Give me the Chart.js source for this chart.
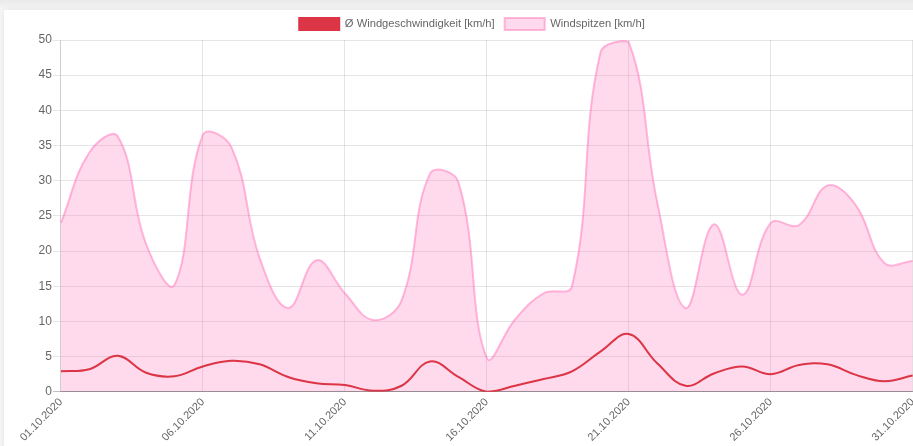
<!DOCTYPE html>
<html>
<head>
<meta charset="utf-8">
<script src="https://cdn.jsdelivr.net/npm/chart.js@4/dist/chart.umd.min.js"></script>
<style>
    html, body { margin: 0; padding: 0; overflow: hidden; }
    body { width: 913px; height: 446px; background: linear-gradient(#e9e9e9, #f6f6f6 10px); }
    .card {
        position: absolute; left: 4px; top: 10px; width: 930px; height: 440px; overflow: hidden;
        background: #fff; box-shadow: 0 0 6px rgba(0,0,0,0.08);
    }
    .card canvas { display: block; margin-top: -2px; margin-left: 14px; }
</style>
</head>
<body>
<div class="card"><canvas id="wind" width="908" height="440"></canvas></div>
<script>
var days = ['01.10.2020', '02.10.2020', '03.10.2020', '04.10.2020', '05.10.2020', '06.10.2020', '07.10.2020', '08.10.2020',
    '09.10.2020', '10.10.2020', '11.10.2020', '12.10.2020', '13.10.2020', '14.10.2020', '15.10.2020', '16.10.2020',
    '17.10.2020', '18.10.2020', '19.10.2020', '20.10.2020', '21.10.2020', '22.10.2020', '23.10.2020', '24.10.2020',
    '25.10.2020', '26.10.2020', '27.10.2020', '28.10.2020', '29.10.2020', '30.10.2020', '31.10.2020'];
var avgSpeed = [2.9, 3.2, 5.1, 2.7, 2.2, 3.6, 4.4, 3.9, 2.1, 1.2, 0.95, 0.15, 0.85, 4.3, 2.1, 0.0,
    0.85, 1.8, 2.9, 5.7, 8.2, 4.05, 0.85, 2.6, 3.6, 2.5, 3.8, 3.9, 2.4, 1.5, 2.3];
var gusts = [24.0, 34.0, 36.3, 21.0, 15.2, 36.5, 34.8, 19.0, 11.9, 18.7, 14.0, 10.2, 13.0, 31.0, 29.8, 4.8,
    10.3, 14.0, 15.0, 48.2, 49.7, 27.0, 11.9, 23.8, 13.8, 24.0, 23.7, 29.3, 26.5, 18.3, 18.6];
var yTicks = [0, 5, 10, 15, 20, 25, 30, 35, 40, 45, 50];

Chart.defaults.font.family = "'Helvetica Neue', Helvetica, Arial, sans-serif";
Chart.defaults.font.size = 12;
Chart.defaults.color = '#666';

var ctx = document.getElementById('wind').getContext('2d');
var chart = new Chart(ctx, {
    type: 'line',
    data: {
        labels: days,
        datasets: [{
                label: 'Ø Windgeschwindigkeit [km/h]',
                data: avgSpeed,
                borderColor: 'rgb(220,53,69)',
                backgroundColor: 'rgb(220,53,69)',
                borderWidth: 2,
                fill: false,
                pointRadius: 0,
                tension: 0.4
            },
            {
                label: 'Windspitzen [km/h]',
                data: gusts,
                borderColor: 'rgba(255,105,180,0.45)',
                backgroundColor: 'rgba(255,105,180,0.25)',
                borderWidth: 2,
                fill: 'origin',
                pointRadius: 0,
                tension: 0.4
            }
        ]
    },
    options: {
        responsive: false,
        animation: false,
        plugins: {
            legend: {
                labels: { boxWidth: 40, boxHeight: 12, padding: 10, font: { size: 11.2 } }
            },
            tooltip: { enabled: false }
        },
        scales: {
            x: {
                grid: {
                    color: function(c) { return c.index % 5 === 0 ? 'rgba(0,0,0,0.1)' : 'transparent'; },
                    tickLength: 0
                },
                border: { color: 'rgba(0,0,0,0.25)' },
                ticks: {
                    autoSkip: false,
                    minRotation: 45,
                    maxRotation: 45,
                    padding: 4,
                    font: { size: 11 },
                    callback: function(v, i) { return i % 5 === 0 ? days[i] : ''; }
                }
            },
            y: {
                min: 0,
                max: 50,
                afterBuildTicks: function(axis) { axis.ticks = yTicks.map(function(v) { return { value: v }; }); },
                grid: {
                    color: function(c) { return c.tick && c.tick.value === 0 ? 'rgba(0,0,0,0.25)' : 'rgba(0,0,0,0.1)'; },
                    tickLength: 8
                },
                border: { color: 'rgba(0,0,0,0.1)' },
                ticks: { padding: 1 }
            }
        }
    }
});
</script>
</body>
</html>
